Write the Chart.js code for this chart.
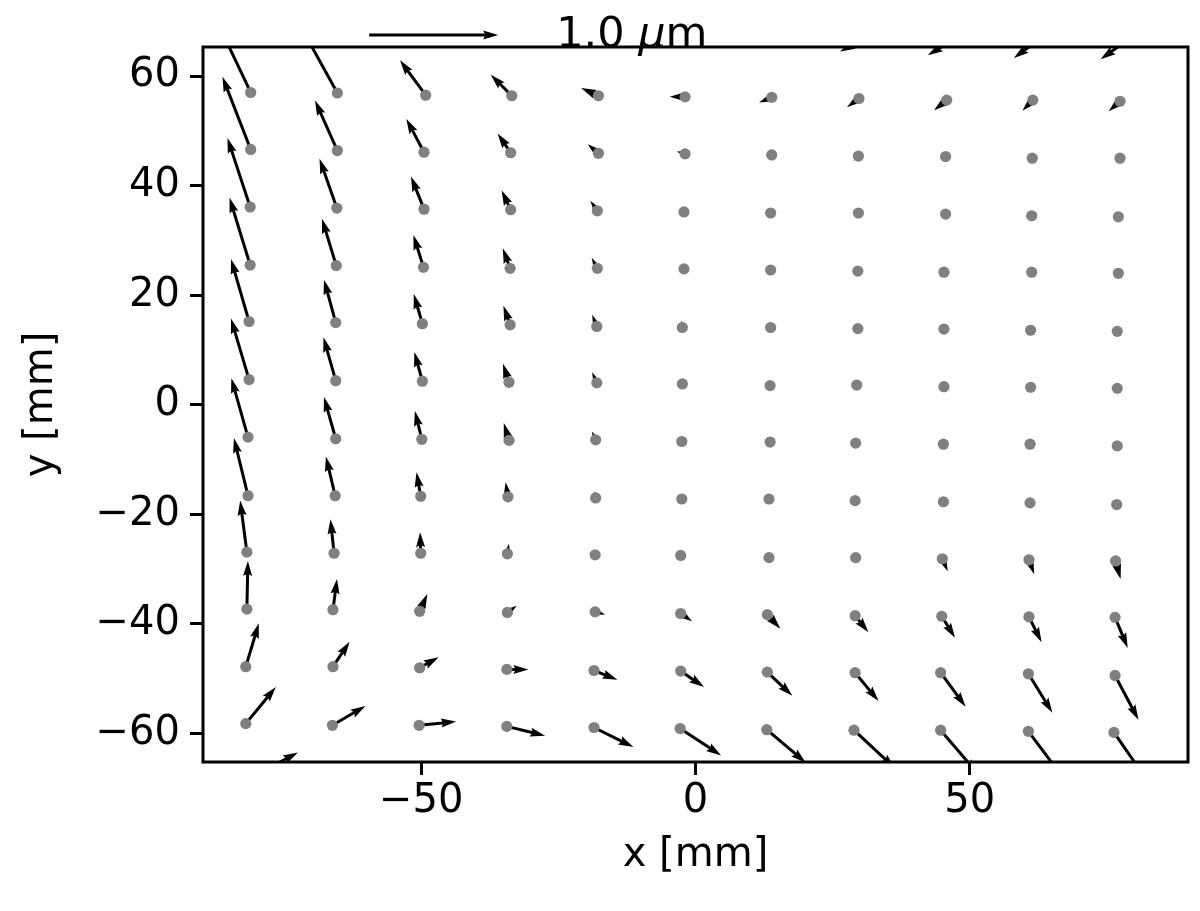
<!DOCTYPE html>
<html><head><meta charset="utf-8">
<script src="https://cdn.jsdelivr.net/npm/chart.js@4/dist/chart.umd.min.js"></script>
<style>html,body{margin:0;padding:0;background:#fff;}#wrap{width:1200px;height:911px;}</style>
</head><body><div id="wrap"><canvas id="c" width="1200" height="911"></canvas></div>
<script>
// ---- data: measured point positions (mm), rows top -> bottom ----
const rowsX = [
  [-81.1,-65.3,-49.2,-33.5,-17.7,-1.9,13.9,29.8,45.8,61.5,77.4],
  [-81.1,-65.3,-49.5,-33.7,-17.7,-1.9,13.9,29.7,45.6,61.4,77.4],
  [-81.2,-65.4,-49.5,-33.7,-17.9,-2.1,13.7,29.7,45.6,61.3,77.1],
  [-81.2,-65.5,-49.6,-33.8,-17.9,-2.1,13.7,29.6,45.3,61.3,77.1],
  [-81.4,-65.6,-49.8,-33.8,-18.0,-2.4,13.7,29.6,45.3,61.1,76.9],
  [-81.4,-65.6,-49.8,-34.0,-18.0,-2.4,13.6,29.4,45.3,61.1,76.9],
  [-81.6,-65.6,-49.9,-34.0,-18.2,-2.5,13.6,29.2,45.2,61.0,76.9],
  [-81.6,-65.7,-50.1,-34.2,-18.2,-2.5,13.4,29.1,45.2,61.0,76.8],
  [-81.8,-65.9,-50.1,-34.3,-18.3,-2.7,13.4,29.2,45.0,60.8,76.6],
  [-81.8,-66.1,-50.3,-34.3,-18.3,-2.7,13.1,29.1,44.9,60.8,76.5],
  [-82.0,-66.1,-50.3,-34.4,-18.5,-2.7,13.1,29.1,44.7,60.7,76.5],
  [-82.0,-66.2,-50.4,-34.4,-18.5,-2.8,13.0,28.9,44.7,60.7,76.3]
];
const rowsY = [
  [57.0,56.9,56.5,56.4,56.4,56.2,56.1,55.9,55.6,55.6,55.4],
  [46.6,46.4,46.1,46.0,45.9,45.8,45.6,45.4,45.3,45.0,45.0],
  [36.1,35.9,35.7,35.6,35.4,35.2,35.0,35.0,34.8,34.5,34.3],
  [25.5,25.4,25.1,24.9,24.9,24.8,24.6,24.4,24.2,24.2,24.0],
  [15.2,15.0,14.8,14.6,14.3,14.1,14.1,13.9,13.8,13.6,13.4],
  [4.6,4.4,4.3,4.1,4.0,3.8,3.5,3.6,3.3,3.2,3.0],
  [-5.9,-6.2,-6.3,-6.5,-6.4,-6.7,-6.8,-7.0,-7.2,-7.2,-7.5],
  [-16.6,-16.6,-16.7,-16.8,-17.0,-17.2,-17.2,-17.5,-17.7,-17.9,-18.2],
  [-26.9,-27.1,-27.1,-27.2,-27.4,-27.5,-27.9,-27.9,-28.1,-28.3,-28.5],
  [-37.3,-37.4,-37.7,-37.9,-37.8,-38.1,-38.3,-38.5,-38.6,-38.7,-38.8],
  [-47.8,-47.8,-48.0,-48.3,-48.5,-48.6,-48.8,-48.9,-48.9,-49.1,-49.4],
  [-58.2,-58.5,-58.5,-58.7,-58.9,-59.1,-59.3,-59.4,-59.4,-59.6,-59.8]
];
// displacement components (µm)
const dispU = [
  [-0.279,-0.256,-0.199,-0.163,-0.134,-0.119,-0.098,-0.093,-0.098,-0.080,-0.088],
  [-0.219,-0.173,-0.137,-0.101,-0.083,-0.064,-0.039,-0.039,-0.023,-0.023,-0.023],
  [-0.176,-0.134,-0.101,-0.070,-0.054,0,0,0,0,0,0],
  [-0.160,-0.111,-0.078,-0.057,-0.044,0,0,0,0,0,0],
  [-0.140,-0.091,-0.067,-0.052,-0.036,-0.008,0,0,0,0,0],
  [-0.140,-0.095,-0.062,-0.047,-0.036,-0.008,0,0,0,0,0],
  [-0.129,-0.091,-0.054,-0.041,-0.029,0,0,0,0,0,0],
  [-0.109,-0.072,-0.033,-0.018,-0.010,0,0,0,0,0.008,0.008],
  [-0.052,-0.028,-0.005,0.012,0,0,0.016,0.023,0.042,0.041,0.039],
  [0.008,0.031,0.060,0.073,0.078,0.088,0.101,0.103,0.103,0.098,0.098],
  [0.101,0.129,0.147,0.167,0.181,0.181,0.194,0.181,0.194,0.186,0.181],
  [0.233,0.256,0.287,0.297,0.305,0.318,0.302,0.318,0.287,0.269,0.264]
];
const dispV = [
  [0.589,0.465,0.271,0.163,0.060,0,-0.039,-0.067,-0.078,-0.083,-0.078],
  [0.564,0.388,0.258,0.150,0.070,0.018,-0.018,-0.036,-0.023,-0.031,-0.031],
  [0.535,0.382,0.253,0.150,0.078,0,0,0,0,0,0],
  [0.522,0.364,0.250,0.155,0.083,0,0,0,0,0,0],
  [0.484,0.333,0.230,0.147,0.091,0.052,0,0,0,0,0],
  [0.473,0.336,0.227,0.145,0.083,0.039,0,0,0,0,0],
  [0.457,0.323,0.219,0.134,0.064,0,0,0,0,0,0],
  [0.447,0.305,0.186,0.114,0.052,0,0,0,0,-0.039,-0.047],
  [0.400,0.264,0.163,0.078,0,0,-0.031,-0.039,-0.098,-0.111,-0.140],
  [0.374,0.238,0.134,0.052,-0.021,-0.060,-0.109,-0.129,-0.167,-0.197,-0.237],
  [0.336,0.194,0.082,0,-0.072,-0.124,-0.184,-0.220,-0.264,-0.302,-0.343],
  [0.284,0.150,0.029,-0.072,-0.152,-0.209,-0.256,-0.295,-0.336,-0.360,-0.383]
];
// points just outside the frame whose arrows reach into it
const edgeX = [30.0, 46.0, 61.7, 77.7, 93.5, -82.1];
const edgeY = [66.3, 66.0, 66.0, 65.8, 65.6, -68.6];
const edgeU = [-0.155,-0.155,-0.155,-0.163,-0.170, 0.409];
const edgeV = [-0.078,-0.093,-0.116,-0.116,-0.116, 0.219];

const xTicks = [-50, 0, 50];
const yTicks = [-60, -40, -20, 0, 20, 40, 60];
const keyValue = 1.0;           // µm
const keyLabelNum = '1.0 ';
const keyLabelMu = 'μ';
const keyLabelUnit = 'm';
const xTitle = 'x [mm]';
const yTitle = 'y [mm]';

// ---- rendering ----
const MM_PER_UM = 23.52;   // quiver scale: 1 µm drawn as 23.52 mm of axis
const FONT = 'DejaVu Sans';
const FS = 40;
const KEY_FS = 43;
const SHAFT = 3.0, HEAD_L = 5, HEAD_AL = 4.5, HEAD_W = 3;

function fmt(v){ return v < 0 ? '\u2212' + Math.abs(v) : String(v); }

function drawArrow(ctx, x0, y0, x1, y1){
  const dx = x1 - x0, dy = y1 - y0, L = Math.hypot(dx, dy);
  if (L < SHAFT) return;
  const w = SHAFT, hl = HEAD_L*w, hal = HEAD_AL*w, hw = HEAD_W*w;
  let s = 1, len = L;
  if (L < hl) { s = L / hl; len = hl; }
  const pts = [[0,-w/2],[len-hal,-w/2],[len-hl,-hw/2],[len,0],[len-hl,hw/2],[len-hal,w/2],[0,w/2]];
  const c = dx / L, sn = dy / L;
  ctx.beginPath();
  pts.forEach(([px,py],i)=>{
    const X = x0 + s*(px*c - py*sn), Y = y0 + s*(px*sn + py*c);
    if (i) ctx.lineTo(X,Y); else ctx.moveTo(X,Y);
  });
  ctx.closePath(); ctx.fill();
}

const quiverPlugin = {
  id: 'quiver',
  beforeDatasetsDraw(chart){
    const {ctx, chartArea:a, scales:{x, y}} = chart;
    ctx.save();
    ctx.beginPath(); ctx.rect(a.left, a.top, a.right - a.left, a.bottom - a.top); ctx.clip();
    ctx.fillStyle = '#000';
    for (let r = 0; r < rowsX.length; r++){
      for (let c = 0; c < rowsX[r].length; c++){
        const px = rowsX[r][c], py = rowsY[r][c];
        drawArrow(ctx, x.getPixelForValue(px), y.getPixelForValue(py),
          x.getPixelForValue(px + dispU[r][c]*MM_PER_UM), y.getPixelForValue(py + dispV[r][c]*MM_PER_UM));
      }
    }
    for (let i = 0; i < edgeX.length; i++){
      drawArrow(ctx, x.getPixelForValue(edgeX[i]), y.getPixelForValue(edgeY[i]),
        x.getPixelForValue(edgeX[i] + edgeU[i]*MM_PER_UM), y.getPixelForValue(edgeY[i] + edgeV[i]*MM_PER_UM));
    }
    ctx.restore();
  },
  afterDraw(chart){
    const {ctx, chartArea:a, scales:{x, y}} = chart;
    ctx.save();
    // frame
    ctx.strokeStyle = '#000'; ctx.lineWidth = 3;
    ctx.strokeRect(a.left, a.top, a.right - a.left, a.bottom - a.top);
    // quiver key
    const kx = -59.5, ky = 67.5;
    ctx.fillStyle = '#000';
    drawArrow(ctx, x.getPixelForValue(kx), y.getPixelForValue(ky),
      x.getPixelForValue(kx + keyValue*MM_PER_UM), y.getPixelForValue(ky));
    let tx = x.getPixelForValue(-25.4);
    const ty = 47;
    ctx.textBaseline = 'alphabetic'; ctx.textAlign = 'left';
    ctx.font = KEY_FS + 'px "' + FONT + '"';
    ctx.fillText(keyLabelNum, tx, ty); tx += ctx.measureText(keyLabelNum).width;
    ctx.font = 'italic ' + KEY_FS + 'px "' + FONT + '"';
    ctx.fillText(keyLabelMu, tx, ty); tx += ctx.measureText(keyLabelMu).width;
    ctx.font = KEY_FS + 'px "' + FONT + '"';
    ctx.fillText(keyLabelUnit, tx, ty);
    ctx.restore();
  }
};

const points = [];
for (let r = 0; r < rowsX.length; r++) for (let c = 0; c < rowsX[r].length; c++) points.push({x: rowsX[r][c], y: rowsY[r][c]});

new Chart(document.getElementById('c'), {
  type: 'scatter',
  data: { datasets: [{ data: points, pointRadius: 5.6, pointHoverRadius: 5.6, pointBackgroundColor: '#808080', pointBorderWidth: 0, borderWidth: 0, clip: 0 }] },
  options: {
    responsive: false, animation: false, devicePixelRatio: 1,
    layout: { padding: { top: 47, right: 12, left: 0, bottom: 0 } },
    plugins: { legend: { display: false }, tooltip: { enabled: false } },
    scales: {
      x: {
        type: 'linear', min: -89.8, max: 89.8,
        afterFit: s => { s.height = 149; },
        afterBuildTicks: s => { s.ticks = xTicks.map(v => ({value: v})); },
        ticks: { font: { family: FONT, size: FS }, color: '#000', padding: 3, maxRotation: 0, autoSkip: false, callback: v => fmt(v) },
        grid: { display: true, drawOnChartArea: false, drawTicks: true, tickLength: 13, tickColor: '#000', tickWidth: 3 },
        border: { display: false },
        title: { display: true, text: xTitle, color: '#000', font: { family: FONT, size: FS }, padding: { top: 0, bottom: 31 } }
      },
      y: {
        type: 'linear', min: -65.2, max: 65.3,
        afterFit: s => { s.width = 203; },
        afterBuildTicks: s => { s.ticks = yTicks.map(v => ({value: v})); },
        ticks: { font: { family: FONT, size: FS }, color: '#000', padding: 10, autoSkip: false, callback: v => fmt(v) },
        grid: { display: true, drawOnChartArea: false, drawTicks: true, tickLength: 13, tickColor: '#000', tickWidth: 3 },
        border: { display: false },
        title: { display: true, text: yTitle, color: '#000', font: { family: FONT, size: FS }, padding: { top: 18, bottom: 0 } }
      }
    }
  },
  plugins: [quiverPlugin]
});
</script>
</body></html>
